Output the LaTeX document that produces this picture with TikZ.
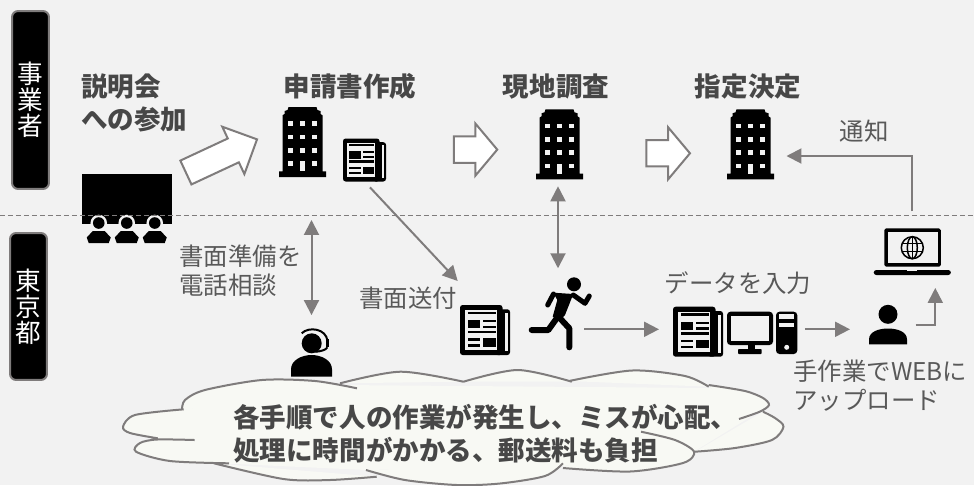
\documentclass[tikz,border=0pt]{standalone}
\usepackage{fontspec}
\setmainfont{Noto Sans CJK JP}
\usetikzlibrary{arrows.meta,shapes.arrows}

\definecolor{bgcol}{HTML}{F2F2F2}
\definecolor{edgecol}{HTML}{7F7C7C}
\definecolor{labelcol}{HTML}{595959}
\definecolor{headcol}{HTML}{474747}
\definecolor{cloudcol}{HTML}{F8F9F4}

\tikzset{
   iconbox/.style={inner sep=0pt,outer sep=0pt},
   sidebox/.style={draw=edgecol,fill=black,line width=0.04cm,rounded corners=3.5pt,minimum width=0.74cm,
      inner sep=0pt,text=white,align=center,font=\fontsize{14.6}{14.9}\selectfont},
   headtext/.style={inner sep=0pt,text=headcol,align=left,font=\bfseries\fontsize{15.1}{18.7}\selectfont},
   plaintext/.style={inner sep=0pt,text=labelcol,align=left,font=\fontsize{13.9}{16.6}\selectfont},
   flowarrow/.style={draw=edgecol,line width=0.04cm,>={Triangle[length=0.3cm,width=0.3cm]}},
   stepshape/.style={single arrow,draw=edgecol,fill=white,line width=0.04cm,inner sep=0pt,text height=0.486cm,text depth=0pt,
      single arrow tip angle=100,single arrow head extend=0.26cm,minimum height=0.87cm},
   building/.pic={
      \fill[black] (-23.5,35) -- (-23.5,29.3) -- (-20,29.3) -- (-20,-26.7) -- (-18,-28) -- (-18,-31)
         -- (-15,-32) -- (-14,-35) -- (14,-35) -- (15,-32) -- (18,-31) -- (18,-28) -- (20,-26.7)
         -- (20,29.3) -- (23.5,29.3) -- (23.5,35) -- cycle;
      \foreach \wy in {-18.3,-5,8.3} {
         \foreach \wx in {-11.7,0,11.7} {
            \fill[bgcol] (\wx-2.4,\wy-2.4) rectangle (\wx+2.4,\wy+2.4);
         }
      }
      \foreach \wx in {-11.7,11.7} {
         \fill[bgcol] (\wx-2.4,19.3) rectangle (\wx+2.4,24);
      }
      \fill[bgcol] (-2.4,19.3) rectangle (2.4,29.3);
   },
   paper/.pic={
      \fill[black,rounded corners=1.5pt] (-25,-25) rectangle (17.5,25);
      \fill[black,rounded corners=1.5pt] (10,-20.7) rectangle (25,25);
      \fill[bgcol] (-20,-20) rectangle (12.4,20);
      \fill[bgcol] (19.8,-17) rectangle (22.6,21);
      \fill[black] (-17.5,-18.5) rectangle (10.7,-16);
      \fill[black] (-17.5,-10) rectangle (-4.6,-1.7);
      \fill[black] (-1.9,-10.2) rectangle (10.7,-7.8);
      \fill[black] (-1.9,-4.5) rectangle (10.7,-2.1);
      \fill[black] (-17.5,0.5) rectangle (10.7,2.9);
      \fill[black] (-17.5,8.1) rectangle (-4.6,10.5);
      \fill[black] (-17.5,14.1) rectangle (-4.6,16.5);
      \fill[black] (-1.9,8.3) rectangle (10.7,16.7);
   },
   computer/.pic={
      \fill[black,rounded corners=2pt] (-35,-21.3) rectangle (11,12);
      \fill[bgcol] (-31,-17.3) rectangle (7,8);
      \fill[black] (-14,12) rectangle (-7,17);
      \fill[black,rounded corners=0.5pt] (-24,16) rectangle (-0.3,21);
      \fill[black,rounded corners=2pt] (14,-21.3) rectangle (35.3,21);
      \fill[bgcol] (17,-18.7) rectangle (32,-13.7);
      \fill[bgcol] (17,-10.3) rectangle (32,-5.7);
      \fill[bgcol] (24.7,14.3) circle[radius=2.5];
   },
   person/.pic={
      \fill[black] (0,-10.2) circle[radius=9.5];
      \fill[black] (-19,19.8) -- (-19,15) .. controls (-19,7) and (-9,4) .. (0,4)
         .. controls (9,4) and (19,7) .. (19,15) -- (19,19.8) -- cycle;
   },
   runner/.pic={
      \fill[black] (13.5,-29.2) circle[radius=7];
      \fill[black] (-7.2,-20.8) -- (12.8,-19.5) -- (4.5,1.5) -- (-0.5,6.5) -- (-7.8,3.2) -- (-3.2,-13.5) -- cycle;
      \draw[black,line width=0.1cm,line cap=round,line join=round] (-7,-19.5) -- (-12.8,-8.5);
      \draw[black,line width=0.1cm,line cap=round,line join=round] (12.8,-18.5) -- (24.5,-10.2) -- (28.8,-17.5);
      \draw[black,line width=0.12cm,line cap=round,line join=round] (-3.8,4.8) -- (-12.2,16.5) -- (-28.8,16.5);
      \draw[black,line width=0.12cm,line cap=round,line join=round] (-0.5,4.8) -- (8.8,14.8) -- (8.8,33.8);
   },
   operator/.pic={
      \fill[black] (0.2,-9) circle[radius=10];
      \draw[black,line width=0.04cm] (-9.8,-19) .. controls (-3,-26) and (15,-24) .. (16,-11);
      \fill[black] (14,-13) rectangle (17.5,-5);
      \draw[black,line width=0.04cm] (16,-5) .. controls (14,-2) and (9,-1) .. (4,-0.5);
      \fill[black] (-20.5,24.4) -- (-20.5,17) .. controls (-20.5,8) and (-10,2.7) .. (0,2.7)
         .. controls (10,2.7) and (20.5,8) .. (20.5,17) -- (20.5,24.4) -- cycle;
   },
   audience/.pic={
      \fill[black] (-44.75,-34.5) rectangle (44.75,15.5);
      \foreach \px in {-28,0,28} {
         \fill[bgcol] (\px,14.5) circle[radius=8.3];
         \fill[black] (\px,14.5) circle[radius=5.8];
         \fill[black] (\px-12,29) -- (\px-6,22.5) -- (\px+6,22.5) -- (\px+12,29) -- (\px+10,34.5) -- (\px-10,34.5) -- cycle;
      }
   },
   laptop/.pic={
      \fill[black,rounded corners=1pt] (-28,-23.4) rectangle (28.5,15);
      \fill[bgcol] (-24.7,-20.1) rectangle (25.2,11.7);
      \draw[black,line width=0.03cm] (0,-4) circle[radius=11];
      \draw[black,line width=0.03cm] (0,-4) ellipse[x radius=5,y radius=11];
      \draw[black,line width=0.03cm] (0,-15) -- (0,7);
      \draw[black,line width=0.03cm] (-10,-8) -- (10,-8);
      \draw[black,line width=0.03cm] (-10,0) -- (10,0);
      \fill[black,rounded corners=1.5pt] (-38.6,18.3) rectangle (38.6,23.3);
      \fill[bgcol] (-5,18.3) rectangle (5,19.5);
   }
}

% cloud outline, one piece per lobe
\newcommand{\cloudlobes}{
   plot[smooth] coordinates {(182,410) (185,400) (205,390) (261.8,380) (315,381) (357,388.3)}
   plot[smooth] coordinates {(340,383.3) (400.5,371.7) (463.4,381.7)}
   plot[smooth] coordinates {(463.4,381.7) (517.6,370) (571.8,381.7)}
   plot[smooth] coordinates {(569,381) (632,370.5) (685,376) (708.7,386.7)}
   plot[smooth] coordinates {(708.7,385) (745,391) (763,398) (769,405) (759.7,411.7) (739,419)}
   plot[smooth] coordinates {(763,411.7) (775,418) (783.5,426.7) (772,440) (735,448) (695,451.7)}
   plot[smooth] coordinates {(641,431.7) (675,440) (694,451.7) (683,463) (630,471.5) (563,468)}
   plot[smooth] coordinates {(563,463.3) (545,476) (500,483.5) (457,485) (405,480) (366,470)}
   plot[smooth] coordinates {(376.7,476.7) (330,480) (283.5,479) (214,463.3)}
   plot[smooth] coordinates {(229,463.3) (170,461) (136,451.7) (140,443) (157,439.5) (194.6,440)}
   plot[smooth] coordinates {(157.7,438.3) (130,433) (123,426.7) (135,415) (183.7,409.3)}
}

\begin{document}
\begin{tikzpicture}[x=0.02cm,y=-0.02cm]
   \useasboundingbox (0,0) rectangle (974,485);
   \fill[bgcol] (0,0) rectangle (974,485);

   \node[sidebox,minimum height=3.56cm] (biz) at (30.5,100) {事\\業\\者};
   \node[sidebox,minimum height=2.94cm] (metro) at (28.5,306.5) {東\\京\\都};

   \node[iconbox,minimum width=1.79cm,minimum height=1.38cm] (hall) at (126.75,208.5) {};
   \pic at (hall) {audience};
   \draw[edgecol,line width=0.02cm,dash pattern=on 0.1cm off 0.06cm] (0,215) -- (974,215);

   \node[headtext,anchor=west] (seminar) at (81,102.5) {説明会\\への参加};
   \node[headtext] (apply) at (350,86.5) {申請書作成};
   \node[headtext] (survey) at (556,86.5) {現地調査};
   \node[headtext] (decide) at (748,86.5) {指定決定};

   \foreach \name/\xc/\yc in {office1/302.5/142,office2/559.5/144.3,office3/750.5/144.3} {
      \node[iconbox,minimum width=0.94cm,minimum height=1.4cm] (\name) at (\xc,\yc) {};
      \pic at (\name) {building};
   }
   \node[iconbox,minimum width=0.86cm,minimum height=0.86cm] (paper1) at (364.5,160) {};
   \pic[scale=0.86] at (paper1) {paper};
   \node[iconbox,minimum width=1cm,minimum height=1cm] (paper2) at (485,330) {};
   \pic at (paper2) {paper};
   \node[iconbox,minimum width=1cm,minimum height=1cm] (paper3) at (698,331.7) {};
   \pic at (paper3) {paper};
   \node[iconbox,minimum width=1.4cm,minimum height=0.85cm] (pc) at (762,333) {};
   \pic at (pc) {computer};
   \node[iconbox,minimum width=1.26cm,minimum height=1.43cm] (runman) at (560.5,313.5) {};
   \pic at (runman) {runner};
   \node[iconbox,minimum width=0.76cm,minimum height=0.79cm] (user) at (888,324.5) {};
   \pic at (user) {person};
   \node[iconbox,minimum width=0.82cm,minimum height=0.97cm] (opr) at (311.5,352.3) {};
   \pic at (opr) {operator};
   \node[iconbox,minimum width=1.54cm,minimum height=0.93cm] (web) at (912.3,251.7) {};
   \pic at (web) {laptop};

   \node[stepshape,rotate=25,single arrow tip angle=90,minimum height=1.57cm] (step1) at (215.5,158.7) {};
   \node[stepshape] (step2) at (470,149.6) {};
   \node[stepshape] (step3) at (662.7,153.3) {};

   \node[plaintext] (notice) at (864,131) {通知};
   \node[plaintext] (input) at (738,283.5) {データを入力};
   \node[plaintext,anchor=west] (phone) at (179,271) {書面準備を\\電話相談};
   \node[plaintext] (mail) at (408,298) {書面送付};
   \node[plaintext,anchor=west] (upload) at (793,386) {手作業でWEBに\\アップロード};

   \coordinate (mailin) at (457.7,281);
   \coordinate (runout) at (584,329.3);

   \draw[flowarrow,<->,shorten <=0.86cm,shorten >=0.26cm] (opr.north |- office1.south) -- (opr.north);
   \draw[flowarrow,->,shorten <=0.16cm] (paper1.south) -- (mailin);
   \draw[flowarrow,<->,shorten <=0.14cm,shorten >=0.19cm] ([xshift=-0.03cm]office2.south) -- ([xshift=-0.03cm]office2.south |- runman.north);
   \draw[flowarrow,->,shorten >=0.28cm] (runout) -- (runout -| paper3.west);
   \draw[flowarrow,->,shorten <=0.16cm,shorten >=0.38cm] (runout -| pc.east) -- (runout -| user.west);
   \draw[flowarrow,->,shorten <=0.17cm,shorten >=0.26cm] (user.east) -| ([xshift=0.46cm]web.south);
   \draw[flowarrow,->,shorten <=0.34cm,shorten >=0.25cm] (web.north) |- ([yshift=-0.234cm]office3.east);

   \fill[cloudcol] (182,410) -- (340,385) -- (710,388) -- (760,411) -- (695,451) -- (563,466)
      -- (366,470) -- (214,463) -- (157,438) -- cycle;
   \fill[cloudcol] \cloudlobes;
   \draw[edgecol,line width=0.04cm] \cloudlobes;
   \node[headtext,anchor=west] (problem) at (233,433.5) {各手順で人の作業が発生し、ミスが心配、\\処理に時間がかかる、郵送料も負担};
\end{tikzpicture}
\end{document}
